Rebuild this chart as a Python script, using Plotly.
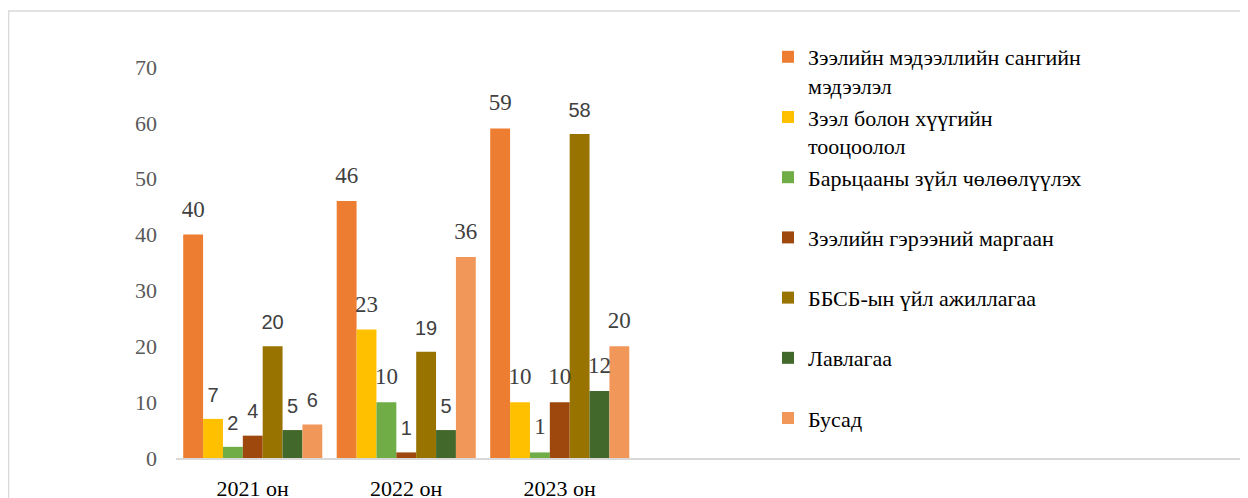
import plotly.graph_objects as go

categories = ["2021 он", "2022 он", "2023 он"]
series_names = [
    "Зээлийн мэдээллийн сангийн<br>мэдээлэл",
    "Зээл болон хүүгийн<br>тооцоолол",
    "Барьцааны зүйл чөлөөлүүлэх<br> ",
    "Зээлийн гэрээний маргаан<br> ",
    "ББСБ-ын үйл ажиллагаа<br> ",
    "Лавлагаа<br> ",
    "Бусад<br> ",
]
credit_db_info = [40, 46, 59]
loan_interest_calc = [7, 23, 10]
collateral_release = [2, 10, 1]
loan_contract_dispute = [4, 1, 10]
nbfi_activity = [20, 19, 58]
reference_req = [5, 5, 12]
other = [6, 36, 20]
series_values = [credit_db_info, loan_interest_calc, collateral_release,
                 loan_contract_dispute, nbfi_activity, reference_req, other]
colors = ["#ED7D31", "#FFC000", "#70AD47", "#9E480E", "#997300", "#43682B", "#F1975A"]
# which data labels are rendered in serif (True) vs sans (False) in the original
label_serif = [
    [True, True, True],
    [False, True, True],
    [False, True, True],
    [False, False, True],
    [False, False, False],
    [False, False, True],
    [False, True, True],
]

SERIF = "Liberation Serif"
SANS = "Liberation Sans"

# page has an 8px body margin; figure sized to fit the 1248x498 viewport
OFF = 8
W, H = 1248 - OFF, 498 - OFF
ML, MR, MT, MB = 176 - OFF, 0, 67 - OFF, 498 - 458
pw = W - ML - MR
ph = H - MT - MB
cat_w = 153.5
x_max = -0.5 + pw / cat_w

fig = go.Figure()
for i, (name, vals, col) in enumerate(zip(series_names, series_values, colors)):
    fig.add_trace(go.Bar(
        x=categories, y=vals, name=name, marker=dict(color=col, line=dict(width=0)),
        offsetgroup=str(i), hoverinfo="skip",
    ))
for i, (vals, serif_flags) in enumerate(zip(series_values, label_serif)):
    fig.add_trace(go.Scatter(
        x=categories, y=vals, mode="markers+text", text=[str(v) for v in vals],
        textposition="top center",
        textfont=dict(
            family=[SERIF if s else SANS for s in serif_flags],
            size=[23 if s else 20 for s in serif_flags],
            color="#404040",
        ),
        marker=dict(size=18, color="rgba(0,0,0,0)"),
        offsetgroup=str(i), showlegend=False, hoverinfo="skip", cliponaxis=False,
    ))

fig.update_layout(
    width=W, height=H,
    margin=dict(l=ML, r=MR, t=MT, b=MB),
    paper_bgcolor="white", plot_bgcolor="white",
    font=dict(family=SERIF),
    barmode="group", bargap=0.094, bargroupgap=0,
    scattermode="group", scattergap=0.094,
    showlegend=True,
    legend=dict(
        x=(768 - OFF - ML) / pw, y=(H - MB - (36 - OFF)) / ph,
        xanchor="left", yanchor="top",
        font=dict(family=SERIF, size=22, color="#000000"),
        valign="top", bgcolor="rgba(0,0,0,0)", tracegroupgap=0,
        maxheight=480,
    ),
    xaxis=dict(
        type="category", range=[-0.5, x_max], showgrid=False, zeroline=False,
        showline=True, linecolor="#d9d9d9", linewidth=2, ticks="",
        tickfont=dict(family=SERIF, size=22, color="#000000"),
        automargin=False, ticklabelstandoff=10, fixedrange=True,
    ),
    yaxis=dict(
        range=[0, 70], dtick=10, showgrid=False, zeroline=False, showline=False,
        tickfont=dict(family=SERIF, size=22, color="#595959"),
        ticklabelstandoff=18, automargin=False, fixedrange=True,
    ),
    shapes=[dict(
        type="rect", xref="paper", yref="paper",
        x0=(8 - OFF - ML) / pw + 0.0005, x1=1.02, y0=-0.3, y1=(H - MB - (11 - OFF)) / ph,
        line=dict(color="#d9d9d9", width=1.5), fillcolor="rgba(0,0,0,0)", layer="below",
    )],
)

fig.write_html("out.html")
